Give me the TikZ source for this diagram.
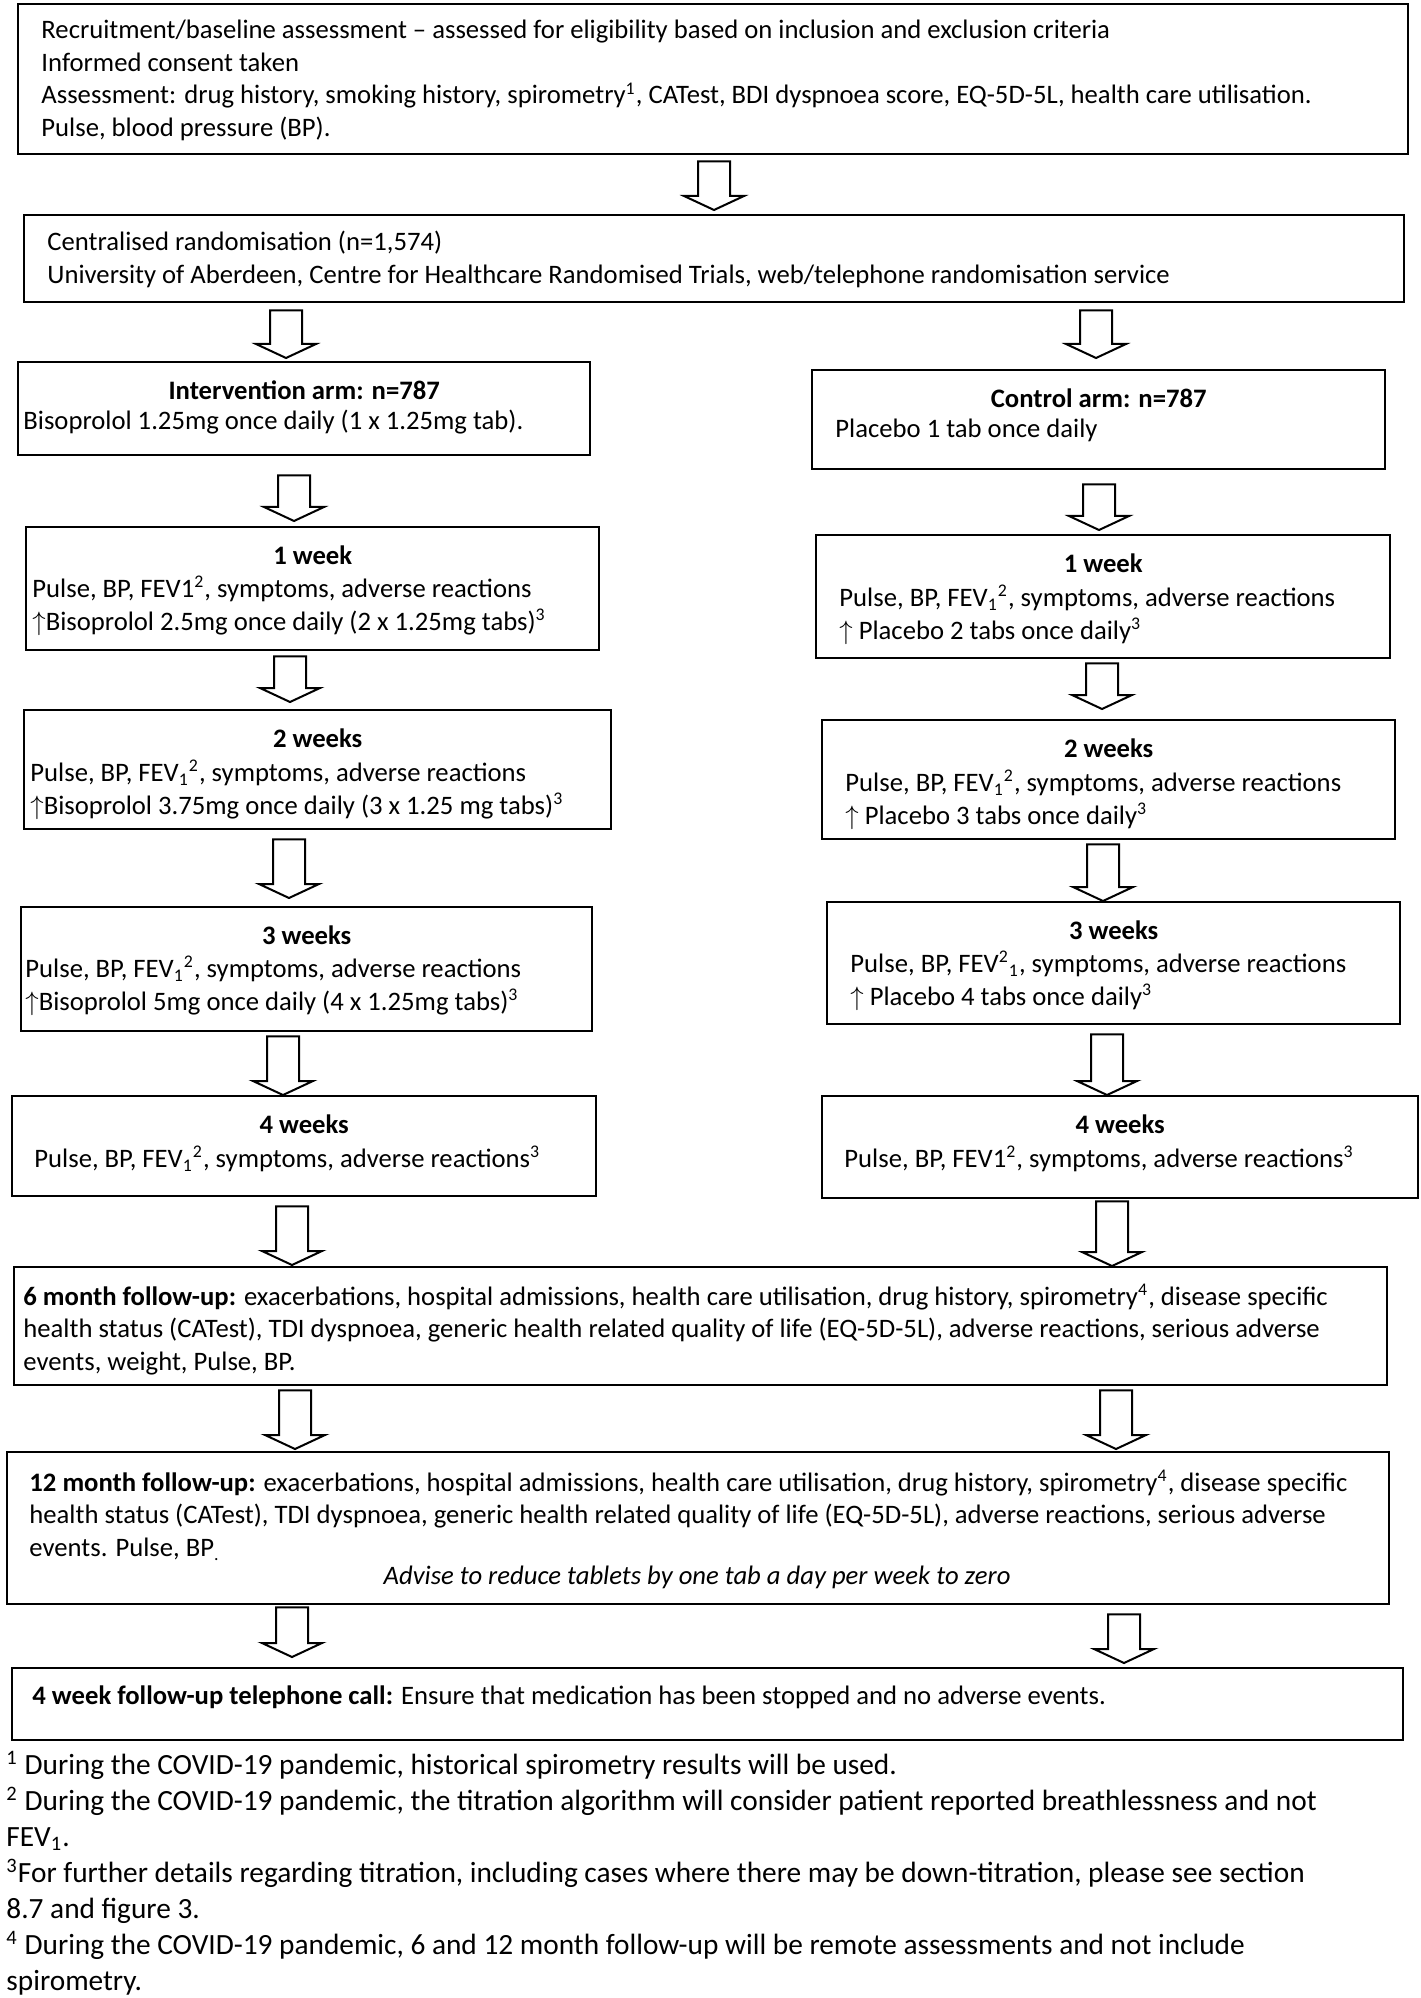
\documentclass[tikz,border=0pt]{standalone}
\usepackage{fontspec}
\setmainfont{Carlito}
\usetikzlibrary{positioning,calc}

\begin{document}
\begin{tikzpicture}[
    x=0.45pt, y=0.45pt,
    every node/.style={font=\fontsize{12}{14.6}\selectfont},
    box/.style={draw, line width=1.1pt, anchor=north west, inner sep=0pt},
    sz/.style 2 args={minimum width=#1*0.45pt, minimum height=#2*0.45pt},
    body/.style={anchor=north west, align=left, inner sep=0pt},
    head/.style={font=\fontsize{12}{14.6}\selectfont\bfseries, inner sep=0pt,
        below=8.8pt of #1.north},
    note/.style={anchor=north west, align=left, inner sep=0pt,
        font=\fontsize{13.2}{16.2}\selectfont},
    blk/.style 2 args={line width=0.9pt, line join=miter, to path={
        let \p1=(\tikztostart), \p2=(\tikztotarget) in
        (\x1-7.2pt,\y1-#1*0.45pt) -- (\x1+7.2pt,\y1-#1*0.45pt)
        -- (\x1+7.2pt,\y2+#2*0.45pt+6.3pt) -- (\x1+13.5pt,\y2+#2*0.45pt+6.3pt)
        -- (\x1,\y2+#2*0.45pt)
        -- (\x1-13.5pt,\y2+#2*0.45pt+6.3pt) -- (\x1-7.2pt,\y2+#2*0.45pt+6.3pt)
        -- cycle}},
]
\useasboundingbox (0,0) rectangle (1420,-1998);

% === Recruitment and randomisation ===
\node[box, sz={1390}{150}] (rec) at (17,-3) {};
\node[body] (rectxt) at (41,-20)
    {Recruitment/baseline assessment -- assessed for eligibility based on inclusion and exclusion criteria\\
     Informed consent taken\\
     Assessment: drug history, smoking history, spirometry\textsuperscript{1}, CATest, BDI dyspnoea score, EQ-5D-5L, health care utilisation.\\
     Pulse, blood pressure (BP).};

\node[box, sz={1380}{87}] (rand) at (23,-214) {};
\node[body] (randtxt) at (47,-231)
    {Centralised randomisation (n=1,574)\\
     University of Aberdeen, Centre for Healthcare Randomised Trials, web/telephone randomisation service};

% === Intervention arm ===
\node[box, sz={572}{93}] (int) at (17,-361) {};
\node[head=int] (inthead) {Intervention arm: n=787};
\node[body] (inttxt) at (23,-410) {Bisoprolol 1.25mg once daily (1 x 1.25mg tab).};

\node[box, sz={573}{123}] (iw1) at (25,-526) {};
\node[head=iw1] (iw1head) {1 week};
\node[body] (iw1txt) at (32,-576)
    {Pulse, BP, FEV1\textsuperscript{2}, symptoms, adverse reactions\\
     $\uparrow$Bisoprolol 2.5mg once daily (2 x 1.25mg tabs)\textsuperscript{3}};

\node[box, sz={587}{119}] (iw2) at (23,-709) {};
\node[head=iw2] (iw2head) {2 weeks};
\node[body] (iw2txt) at (30,-760)
    {Pulse, BP, FEV\textsubscript{1}\textsuperscript{2}, symptoms, adverse reactions\\
     $\uparrow$Bisoprolol 3.75mg once daily (3 x 1.25 mg tabs)\textsuperscript{3}};

\node[box, sz={571}{124}] (iw3) at (20,-906) {};
\node[head=iw3] (iw3head) {3 weeks};
\node[body] (iw3txt) at (25,-956)
    {Pulse, BP, FEV\textsubscript{1}\textsuperscript{2}, symptoms, adverse reactions\\
     $\uparrow$Bisoprolol 5mg once daily (4 x 1.25mg tabs)\textsuperscript{3}};

\node[box, sz={584}{100}] (iw4) at (11,-1095) {};
\node[head=iw4] (iw4head) {4 weeks};
\node[body] (iw4txt) at (34,-1146)
    {Pulse, BP, FEV\textsubscript{1}\textsuperscript{2}, symptoms, adverse reactions\textsuperscript{3}};

% === Control arm ===
\node[box, sz={573}{99}] (ctl) at (811,-369) {};
\node[head=ctl] (ctlhead) {Control arm: n=787};
\node[body] (ctltxt) at (835,-419) {Placebo 1 tab once daily};

\node[box, sz={574}{123}] (cw1) at (815,-534) {};
\node[head=cw1] (cw1head) {1 week};
\node[body] (cw1txt) at (839,-585)
    {Pulse, BP, FEV\textsubscript{1}\textsuperscript{2}, symptoms, adverse reactions\\
     $\uparrow$ Placebo 2 tabs once daily\textsuperscript{3}};

\node[box, sz={573}{119}] (cw2) at (821,-719) {};
\node[head=cw2] (cw2head) {2 weeks};
\node[body] (cw2txt) at (845,-770)
    {Pulse, BP, FEV\textsubscript{1}\textsuperscript{2}, symptoms, adverse reactions\\
     $\uparrow$ Placebo 3 tabs once daily\textsuperscript{3}};

\node[box, sz={573}{122}] (cw3) at (826,-901) {};
\node[head=cw3] (cw3head) {3 weeks};
\node[body] (cw3txt) at (850,-951)
    {Pulse, BP, FEV\textsuperscript{2}\textsubscript{1}, symptoms, adverse reactions\\
     $\uparrow$ Placebo 4 tabs once daily\textsuperscript{3}};

\node[box, sz={596}{102}] (cw4) at (821,-1095) {};
\node[head=cw4] (cw4head) {4 weeks};
\node[body] (cw4txt) at (844,-1146)
    {Pulse, BP, FEV1\textsuperscript{2}, symptoms, adverse reactions\textsuperscript{3}};

% === Follow-up ===
\node[box, sz={1373}{118}] (six) at (13,-1266) {};
\node[body] (sixtxt) at (23,-1284)
    {\textbf{6 month follow-up:} exacerbations, hospital admissions, health care utilisation, drug history, spirometry\textsuperscript{4}, disease specific\\
     health status (CATest), TDI dyspnoea, generic health related quality of life (EQ-5D-5L), adverse reactions, serious adverse\\
     events, weight, Pulse, BP.};

\node[box, sz={1382}{152}] (twelve) at (6,-1451) {};
\node[body] (twelvetxt) at (29,-1470)
    {\textbf{12 month follow-up:} exacerbations, hospital admissions, health care utilisation, drug history, spirometry\textsuperscript{4}, disease specific\\
     health status (CATest), TDI dyspnoea, generic health related quality of life (EQ-5D-5L), adverse reactions, serious adverse\\
     events. Pulse, BP\textsubscript{.}};
\node[inner sep=0pt, anchor=north, font=\fontsize{12}{14.6}\selectfont\itshape] (advise) at (697,-1566)
    {Advise to reduce tablets by one tab a day per week to zero};

\node[box, sz={1391}{72}] (tel) at (11,-1667) {};
\node[body] (teltxt) at (32,-1685)
    {\textbf{4 week follow-up telephone call:} Ensure that medication has been stopped and no adverse events.};

% Block arrows
\foreach \a/\b/\cx/\g/\h in {rec/rand/714/6/4, rand/int/286/7/3, rand/ctl/1096/7/11,
    int/iw1/294/19/5, iw1/iw2/290/5/7, iw2/iw3/289/9/8, iw3/iw4/283/4/0, iw4/six/292/9/1,
    ctl/cw1/1099/14/4, cw1/cw2/1102/4/10, cw2/cw3/1103/4/0, cw3/cw4/1107/9/0, cw4/six/1112/2/0,
    six/twelve/295/4/2, six/twelve/1116/4/2, twelve/tel/292/2/10, twelve/tel/1124/9/4} {
    \draw[blk={\g}{\h}] (\a.south -| \cx,0) to (\b.north -| \cx,0);
}

% === Footnotes ===
\node[note] (notes) at (6,-1751)
    {\textsuperscript{1} During the COVID-19 pandemic, historical spirometry results will be used.\\
     \textsuperscript{2} During the COVID-19 pandemic, the titration algorithm will consider patient reported breathlessness and not\\
     FEV\textsubscript{1}.\\
     \textsuperscript{3}For further details regarding titration, including cases where there may be down-titration, please see section\\
     8.7 and figure 3.\\
     \textsuperscript{4} During the COVID-19 pandemic, 6 and 12 month follow-up will be remote assessments and not include\\
     spirometry.};

\end{tikzpicture}
\end{document}
